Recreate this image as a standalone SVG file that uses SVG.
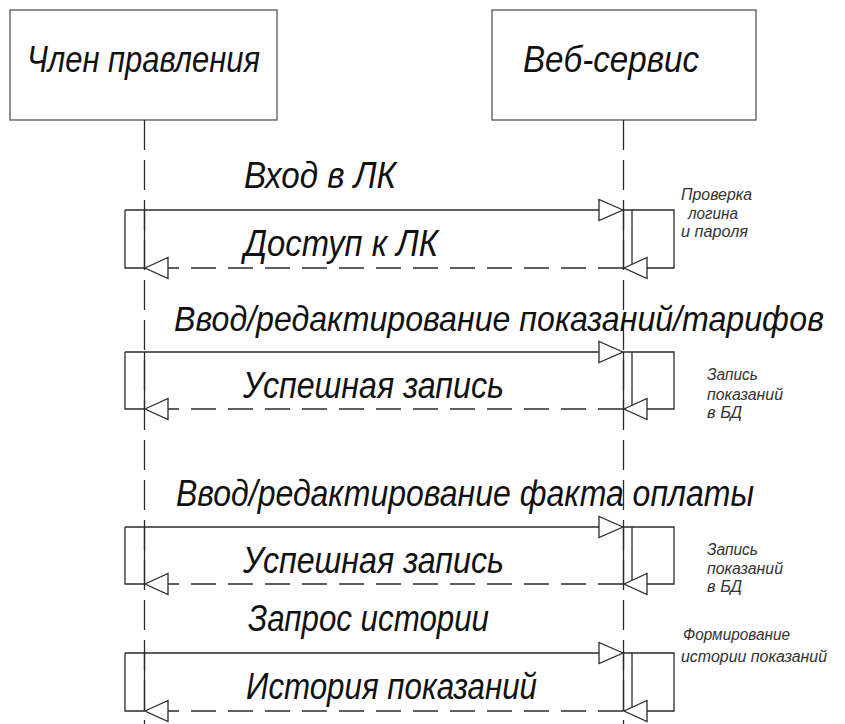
<svg xmlns="http://www.w3.org/2000/svg" width="845" height="724" viewBox="0 0 845 724">
<style>
.box{fill:#fff;stroke:#555;stroke-width:1.3}
.ln{fill:none;stroke:#2b2b2b;stroke-width:1.3}
.life{fill:none;stroke:#2b2b2b;stroke-width:1.3;stroke-dasharray:30 10}
.ret{fill:none;stroke:#2b2b2b;stroke-width:1.3;stroke-dasharray:25 12}
.ah{fill:#fff;stroke:#2b2b2b;stroke-width:1.3}
.big{font-family:"Liberation Sans",Arial,sans-serif;font-style:italic;font-size:36px;fill:#111}
.note{font-family:"Liberation Sans",Arial,sans-serif;font-style:italic;font-size:16px;fill:#333}
</style>
<rect width="845" height="724" fill="#fff"/>
<g id="actor-member">
<rect class="box" x="10" y="10" width="267" height="110"/>
<text class="big" x="27" y="72" textLength="233" lengthAdjust="spacingAndGlyphs">Член правления</text>
</g>
<g id="actor-service">
<rect class="box" x="492" y="10" width="264" height="110"/>
<text class="big" x="523" y="72" textLength="176" lengthAdjust="spacingAndGlyphs">Веб-сервис</text>
</g>
<g id="lifelines">
<path class="life" d="M144.5,120V724"/>
<path class="life" d="M623.5,120V724"/>
</g>
<g id="connectors">
<path class="ln" d="M144.5,210V268M623.5,210V268"/>
<path class="ln" d="M125,210H674V268H624M125,210V268H144.5M632,210V268"/>
<path class="ret" d="M623,268H168"/>
<polygon class="ah" points="623,210 599,199.5 599,220.5"/>
<polygon class="ah" points="624,268 647,257.5 647,278.5"/>
<polygon class="ah" points="145,268 168,257.5 168,278.5"/>
<path class="ln" d="M144.5,352V409M623.5,352V409"/>
<path class="ln" d="M125,352H674V409H624M125,352V409H144.5M632,352V409"/>
<path class="ret" d="M623,409H168"/>
<polygon class="ah" points="623,352 599,341.5 599,362.5"/>
<polygon class="ah" points="624,409 647,398.5 647,419.5"/>
<polygon class="ah" points="145,409 168,398.5 168,419.5"/>
<path class="ln" d="M144.5,527V584M623.5,527V584"/>
<path class="ln" d="M125,527H674V584H624M125,527V584H144.5M632,527V584"/>
<path class="ret" d="M623,584H168"/>
<polygon class="ah" points="623,527 599,516.5 599,537.5"/>
<polygon class="ah" points="624,584 647,573.5 647,594.5"/>
<polygon class="ah" points="145,584 168,573.5 168,594.5"/>
<path class="ln" d="M144.5,653V711M623.5,653V711"/>
<path class="ln" d="M125,653H674V711H624M125,653V711H144.5M632,653V711"/>
<path class="ret" d="M623,711H168"/>
<polygon class="ah" points="623,653 599,642.5 599,663.5"/>
<polygon class="ah" points="624,711 647,700.5 647,721.5"/>
<polygon class="ah" points="145,711 168,700.5 168,721.5"/>
</g>
<g id="labels">
<text class="big" x="244" y="188" textLength="152" lengthAdjust="spacingAndGlyphs">Вход в ЛК</text>
<text class="big" x="244" y="256" textLength="194" lengthAdjust="spacingAndGlyphs">Доступ к ЛК</text>
<text class="big" transform="translate(174,331) scale(1,1.385)" x="0" y="0" style="font-size:26px" textLength="650" lengthAdjust="spacingAndGlyphs">Ввод/редактирование показаний/тарифов</text>
<text class="big" x="243" y="398" textLength="261" lengthAdjust="spacingAndGlyphs">Успешная запись</text>
<text class="big" x="176" y="506" textLength="578" lengthAdjust="spacingAndGlyphs">Ввод/редактирование факта оплаты</text>
<text class="big" x="243" y="573" textLength="261" lengthAdjust="spacingAndGlyphs">Успешная запись</text>
<text class="big" x="248" y="631" textLength="241" lengthAdjust="spacingAndGlyphs">Запрос истории</text>
<text class="big" x="246" y="699" textLength="291" lengthAdjust="spacingAndGlyphs">История показаний</text>
</g>
<g id="notes">
<text class="note" x="681" y="200" textLength="71" lengthAdjust="spacingAndGlyphs">Проверка</text>
<text class="note" x="688" y="219" textLength="50" lengthAdjust="spacingAndGlyphs">логина</text>
<text class="note" x="681" y="237" textLength="67" lengthAdjust="spacingAndGlyphs">и пароля</text>
<text class="note" x="707" y="380" textLength="51" lengthAdjust="spacingAndGlyphs">Запись</text>
<text class="note" x="707" y="400" textLength="76" lengthAdjust="spacingAndGlyphs">показаний</text>
<text class="note" x="707" y="418" textLength="35" lengthAdjust="spacingAndGlyphs">в БД</text>
<text class="note" x="707" y="555" textLength="51" lengthAdjust="spacingAndGlyphs">Запись</text>
<text class="note" x="707" y="574" textLength="76" lengthAdjust="spacingAndGlyphs">показаний</text>
<text class="note" x="707" y="592" textLength="35" lengthAdjust="spacingAndGlyphs">в БД</text>
<text class="note" x="683" y="640" textLength="107" lengthAdjust="spacingAndGlyphs">Формирование</text>
<text class="note" x="681" y="662" textLength="146" lengthAdjust="spacingAndGlyphs">истории показаний</text>
</g>
</svg>
